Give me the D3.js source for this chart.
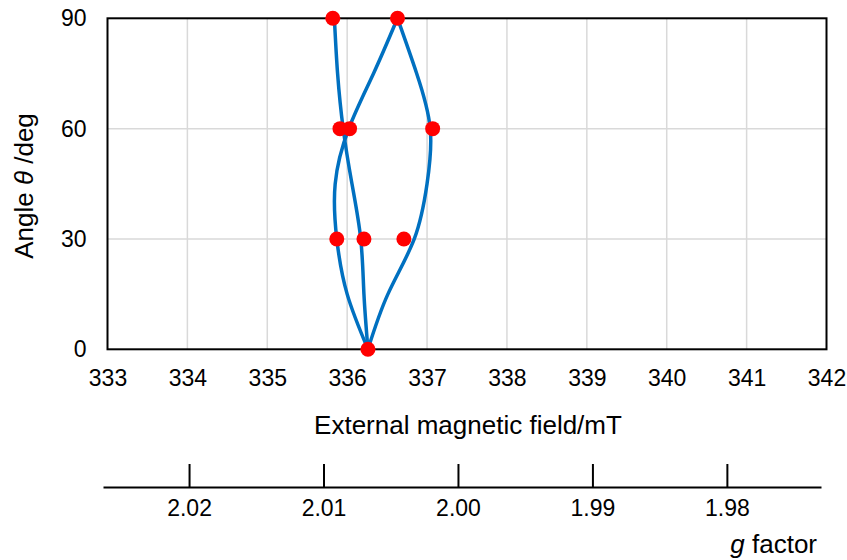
<!DOCTYPE html>
<html>
<head>
<meta charset="UTF-8">
<style>
  body { margin: 0; background: #ffffff; }
  svg { font-family: "Liberation Sans", Arial, sans-serif; }
  .tick text { font-size: 23px; fill: #000; }
</style>
</head>
<body>
<svg width="847" height="560"></svg>
<script src="https://cdn.jsdelivr.net/npm/d3@7"></script>
<script>
// measured resonance fields (mT) at each angle
let angles = [0, 30, 60, 90];
let measured = [
  [336.26],
  [335.87, 336.21, 336.71],
  [335.91, 336.03, 337.07],
  [335.82, 336.63]
];

// simulated angular dependence, three sites
let curveAngles = [0, 15, 30, 45, 60, 75, 90];
let siteA = [336.26, 336.00, 335.87, 335.85, 336.02, 336.33, 336.63];
let siteB = [336.26, 336.21, 336.17, 336.06, 335.95, 335.88, 335.84];
let siteC = [336.26, 336.51, 336.84, 337.00, 337.04, 336.87, 336.63];

let fieldTicks = [333, 334, 335, 336, 337, 338, 339, 340, 341, 342];
let angleTicks = [0, 30, 60, 90];
let gTicks = [2.02, 2.01, 2.00, 1.99, 1.98];
let gDomain = [2.0264, 1.973];

let svg = d3.select("svg");
let pLeft = 107.5, pRight = 826.5, pTop = 18.3, pBottom = 349.3;

let x = d3.scaleLinear().domain([333, 342]).range([pLeft, pRight]);
let y = d3.scaleLinear().domain([0, 90]).range([pBottom, pTop]);

// grid
svg.append("g")
  .selectAll("line")
  .data(fieldTicks.slice(1, -1))
  .enter().append("line")
  .attr("x1", d => x(d)).attr("x2", d => x(d))
  .attr("y1", pTop).attr("y2", pBottom)
  .attr("stroke", "#d9d9d9").attr("stroke-width", 1.5);
svg.append("g")
  .selectAll("line")
  .data(angleTicks.slice(1, -1))
  .enter().append("line")
  .attr("x1", pLeft).attr("x2", pRight)
  .attr("y1", d => y(d)).attr("y2", d => y(d))
  .attr("stroke", "#d9d9d9").attr("stroke-width", 1.5);

// frame
svg.append("rect")
  .attr("x", pLeft).attr("y", pTop)
  .attr("width", pRight - pLeft).attr("height", pBottom - pTop)
  .attr("fill", "none").attr("stroke", "#000").attr("stroke-width", 2);

// axes
let xAxis = svg.append("g")
  .attr("transform", "translate(0," + pBottom + ")")
  .call(d3.axisBottom(x).tickValues(fieldTicks).tickSize(0).tickPadding(20));
xAxis.select(".domain").remove();

let yAxis = svg.append("g")
  .attr("transform", "translate(" + pLeft + ",0)")
  .call(d3.axisLeft(y).tickValues(angleTicks).tickSize(0).tickPadding(21));
yAxis.select(".domain").remove();

svg.append("text")
  .attr("x", 468).attr("y", 434)
  .attr("text-anchor", "middle")
  .attr("font-size", 26)
  .text("External magnetic field/mT");

let yt = svg.append("text")
  .attr("transform", "translate(33,186) rotate(-90)")
  .attr("text-anchor", "middle")
  .attr("font-size", 26);
yt.append("tspan").text("Angle ");
yt.append("tspan").attr("font-style", "italic").text("θ");
yt.append("tspan").text(" /deg");

// curves
let line = d3.line()
  .x(d => x(d[0]))
  .y(d => y(d[1]))
  .curve(d3.curveNatural);

[siteA, siteB, siteC].forEach(s => {
  svg.append("path")
    .datum(s.map((v, i) => [v, curveAngles[i]]))
    .attr("d", line)
    .attr("fill", "none")
    .attr("stroke", "#0070c0")
    .attr("stroke-width", 3.5);
});

// points
let pts = [];
angles.forEach((a, i) => measured[i].forEach(v => pts.push([v, a])));
svg.append("g")
  .selectAll("circle")
  .data(pts)
  .enter().append("circle")
  .attr("cx", d => x(d[0]))
  .attr("cy", d => y(d[1]))
  .attr("r", 7.5)
  .attr("fill", "#ff0000");

// g factor axis
let g = d3.scaleLinear().domain(gDomain).range([103, 821]);
let gAxis = svg.append("g")
  .attr("transform", "translate(0,487)")
  .call(d3.axisTop(g).tickValues(gTicks).tickSizeInner(23).tickSizeOuter(0)
    .tickFormat(d3.format(".2f")));
gAxis.select(".domain").attr("stroke-width", 2);
gAxis.selectAll(".tick line").attr("stroke-width", 2);
gAxis.selectAll(".tick text").attr("y", 13).attr("dy", "0.71em");

let gt = svg.append("text")
  .attr("x", 817).attr("y", 553)
  .attr("text-anchor", "end")
  .attr("font-size", 26);
gt.append("tspan").attr("font-style", "italic").text("g");
gt.append("tspan").text(" factor");
</script>
</body>
</html>
